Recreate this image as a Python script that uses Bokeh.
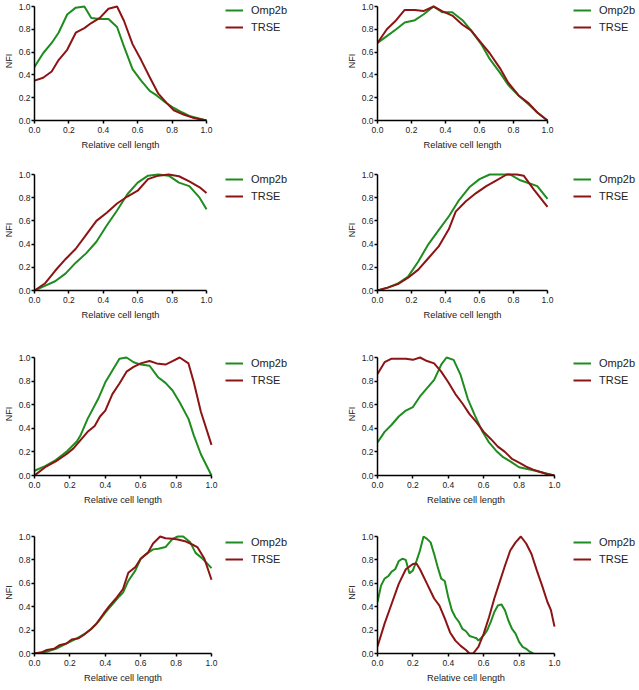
from bokeh.plotting import figure
from bokeh.models import Range1d, Legend, LegendItem, FixedTicker, CustomJSTickFormatter, Title
from bokeh.layouts import column, row
from bokeh.embed import file_html
from bokeh.resources import INLINE

# ---------------- data ----------------
p1_omp_x = [0.0, 0.05, 0.10, 0.14, 0.19, 0.24, 0.29, 0.33, 0.38, 0.43, 0.48, 0.52, 0.57, 0.62, 0.67, 0.71, 0.76, 0.81, 0.86, 0.90, 0.95, 1.0]
p1_omp_y = [0.47, 0.59, 0.68, 0.77, 0.93, 0.99, 1.0, 0.90, 0.89, 0.89, 0.82, 0.65, 0.45, 0.35, 0.26, 0.22, 0.16, 0.11, 0.07, 0.04, 0.02, 0.0]
p1_trs_x = [0.0, 0.05, 0.10, 0.14, 0.19, 0.24, 0.29, 0.33, 0.38, 0.43, 0.48, 0.52, 0.57, 0.62, 0.67, 0.72, 0.77, 0.81, 0.87, 0.92, 1.0]
p1_trs_y = [0.35, 0.375, 0.43, 0.53, 0.62, 0.77, 0.81, 0.855, 0.90, 0.98, 1.0, 0.875, 0.67, 0.53, 0.38, 0.235, 0.15, 0.09, 0.05, 0.025, 0.0]

p2_omp_x = [0.0, 0.055, 0.11, 0.16, 0.22, 0.27, 0.33, 0.38, 0.44, 0.50, 0.55, 0.61, 0.66, 0.72, 0.77, 0.83, 0.89, 0.94, 1.0]
p2_omp_y = [0.68, 0.74, 0.80, 0.86, 0.88, 0.93, 1.0, 0.95, 0.95, 0.88, 0.79, 0.67, 0.54, 0.42, 0.31, 0.22, 0.14, 0.07, 0.0]
p2_trs_x = [0.0, 0.055, 0.11, 0.16, 0.22, 0.27, 0.33, 0.38, 0.44, 0.50, 0.55, 0.61, 0.66, 0.72, 0.77, 0.83, 0.89, 0.94, 1.0]
p2_trs_y = [0.68, 0.80, 0.88, 0.97, 0.97, 0.96, 1.0, 0.96, 0.92, 0.84, 0.79, 0.68, 0.59, 0.46, 0.33, 0.22, 0.15, 0.07, 0.0]

p3_omp_x = [0.0, 0.06, 0.12, 0.18, 0.24, 0.30, 0.36, 0.42, 0.48, 0.54, 0.60, 0.66, 0.72, 0.78, 0.84, 0.90, 0.96, 1.0]
p3_omp_y = [0.0, 0.04, 0.08, 0.145, 0.24, 0.32, 0.42, 0.56, 0.69, 0.83, 0.93, 0.99, 1.0, 0.99, 0.93, 0.90, 0.80, 0.70]
p3_trs_x = [0.0, 0.06, 0.12, 0.18, 0.24, 0.30, 0.36, 0.42, 0.48, 0.54, 0.60, 0.66, 0.72, 0.78, 0.84, 0.90, 0.96, 1.0]
p3_trs_y = [0.0, 0.06, 0.17, 0.27, 0.36, 0.48, 0.60, 0.67, 0.75, 0.81, 0.86, 0.96, 0.99, 1.0, 0.985, 0.94, 0.89, 0.84]

p4_omp_x = [0.0, 0.06, 0.12, 0.18, 0.24, 0.30, 0.36, 0.42, 0.48, 0.54, 0.60, 0.66, 0.72, 0.78, 0.84, 0.90, 0.94, 1.0]
p4_omp_y = [0.0, 0.025, 0.06, 0.12, 0.25, 0.40, 0.52, 0.64, 0.78, 0.89, 0.96, 1.0, 1.0, 1.0, 0.95, 0.92, 0.90, 0.79]
p4_trs_x = [0.0, 0.06, 0.12, 0.18, 0.24, 0.30, 0.36, 0.42, 0.46, 0.52, 0.58, 0.64, 0.70, 0.76, 0.82, 0.86, 0.92, 1.0]
p4_trs_y = [0.0, 0.025, 0.055, 0.11, 0.18, 0.28, 0.38, 0.53, 0.68, 0.77, 0.84, 0.90, 0.95, 1.0, 1.0, 0.99, 0.87, 0.72]

p5_omp_x = [0.0, 0.06, 0.12, 0.18, 0.24, 0.26, 0.30, 0.36, 0.40, 0.44, 0.48, 0.52, 0.56, 0.60, 0.65, 0.70, 0.74, 0.78, 0.82, 0.87, 0.90, 0.94, 1.0]
p5_omp_y = [0.04, 0.08, 0.13, 0.20, 0.29, 0.34, 0.48, 0.65, 0.79, 0.89, 0.99, 1.0, 0.96, 0.94, 0.93, 0.83, 0.785, 0.72, 0.62, 0.48, 0.34, 0.18, 0.0]
p5_trs_x = [0.0, 0.06, 0.12, 0.18, 0.22, 0.26, 0.30, 0.34, 0.37, 0.40, 0.44, 0.48, 0.52, 0.56, 0.60, 0.65, 0.69, 0.74, 0.78, 0.82, 0.87, 0.90, 0.94, 1.0]
p5_trs_y = [0.0, 0.07, 0.12, 0.18, 0.23, 0.30, 0.37, 0.42, 0.50, 0.55, 0.69, 0.78, 0.88, 0.92, 0.95, 0.97, 0.95, 0.94, 0.97, 1.0, 0.95, 0.79, 0.54, 0.26]

p6_omp_x = [0.0, 0.04, 0.08, 0.12, 0.16, 0.20, 0.24, 0.28, 0.32, 0.36, 0.39, 0.43, 0.47, 0.51, 0.55, 0.59, 0.63, 0.67, 0.71, 0.75, 0.80, 0.86, 0.92, 0.96, 1.0]
p6_omp_y = [0.28, 0.37, 0.43, 0.50, 0.55, 0.58, 0.67, 0.74, 0.81, 0.94, 1.0, 0.98, 0.85, 0.65, 0.51, 0.38, 0.28, 0.21, 0.155, 0.12, 0.07, 0.05, 0.03, 0.015, 0.0]
p6_trs_x = [0.0, 0.04, 0.08, 0.12, 0.16, 0.20, 0.24, 0.28, 0.32, 0.36, 0.40, 0.44, 0.48, 0.52, 0.56, 0.60, 0.64, 0.68, 0.72, 0.76, 0.80, 0.84, 0.88, 0.92, 0.96, 1.0]
p6_trs_y = [0.86, 0.96, 0.99, 0.99, 0.99, 0.98, 1.0, 0.97, 0.95, 0.88, 0.79, 0.69, 0.61, 0.52, 0.45, 0.37, 0.31, 0.245, 0.20, 0.14, 0.11, 0.075, 0.05, 0.03, 0.01, 0.0]

p7_omp_x = [0.0, 0.04, 0.08, 0.12, 0.16, 0.20, 0.24, 0.28, 0.32, 0.36, 0.40, 0.44, 0.48, 0.50, 0.53, 0.57, 0.60, 0.63, 0.67, 0.70, 0.74, 0.78, 0.81, 0.84, 0.88, 0.91, 0.95, 1.0]
p7_omp_y = [0.0, 0.005, 0.02, 0.04, 0.07, 0.10, 0.13, 0.165, 0.21, 0.27, 0.35, 0.42, 0.49, 0.52, 0.62, 0.71, 0.81, 0.85, 0.89, 0.895, 0.91, 0.98, 1.0, 1.0, 0.95, 0.86, 0.81, 0.73]
p7_trs_x = [0.0, 0.04, 0.07, 0.11, 0.14, 0.18, 0.21, 0.25, 0.28, 0.32, 0.35, 0.39, 0.42, 0.46, 0.50, 0.53, 0.57, 0.60, 0.64, 0.67, 0.71, 0.74, 0.78, 0.81, 0.85, 0.88, 0.92, 0.96, 1.0]
p7_trs_y = [0.0, 0.01, 0.03, 0.04, 0.07, 0.085, 0.12, 0.13, 0.16, 0.21, 0.255, 0.34, 0.40, 0.47, 0.55, 0.69, 0.74, 0.81, 0.86, 0.94, 1.0, 0.985, 0.98, 0.975, 0.96, 0.94, 0.91, 0.81, 0.63]

p8_omp_x = [0.0, 0.02, 0.04, 0.06, 0.08, 0.10, 0.12, 0.14, 0.16, 0.18, 0.20, 0.22, 0.24, 0.26, 0.28, 0.30, 0.32, 0.34, 0.36, 0.38, 0.40, 0.42, 0.44, 0.46, 0.48, 0.50, 0.52, 0.54, 0.56, 0.57, 0.60, 0.62, 0.64, 0.66, 0.68, 0.70, 0.72, 0.74, 0.76, 0.78, 0.80, 0.82, 0.84, 0.86, 0.88]
p8_omp_y = [0.44, 0.58, 0.64, 0.66, 0.70, 0.72, 0.79, 0.81, 0.80, 0.685, 0.71, 0.79, 0.88, 1.0, 0.98, 0.95, 0.85, 0.74, 0.64, 0.62, 0.48, 0.37, 0.31, 0.27, 0.21, 0.19, 0.15, 0.14, 0.13, 0.11, 0.155, 0.20, 0.27, 0.355, 0.41, 0.42, 0.37, 0.28, 0.21, 0.17, 0.10, 0.057, 0.04, 0.015, 0.0]
p8_trs_x = [0.0, 0.04, 0.08, 0.12, 0.16, 0.20, 0.22, 0.24, 0.28, 0.32, 0.35, 0.38, 0.41, 0.44, 0.47, 0.50, 0.52, 0.54, 0.57, 0.60, 0.63, 0.66, 0.69, 0.72, 0.75, 0.78, 0.81, 0.84, 0.87, 0.90, 0.93, 0.96, 0.98, 1.0]
p8_trs_y = [0.06, 0.255, 0.425, 0.595, 0.72, 0.765, 0.77, 0.72, 0.595, 0.47, 0.41, 0.30, 0.18, 0.11, 0.065, 0.03, 0.0, 0.0, 0.057, 0.17, 0.31, 0.47, 0.61, 0.75, 0.88, 0.95, 1.0, 0.94, 0.85, 0.71, 0.58, 0.44, 0.37, 0.23]

series_names = ["Omp2b", "TRSE"]
tick_values = [0.0, 0.2, 0.4, 0.6, 0.8, 1.0]
x_label = "Relative cell length"
y_label = "NFI"

GREEN = "#1e8c1e"
RED = "#8c1414"
FONT = "Liberation Sans"

panels = [
    (p1_omp_x, p1_omp_y, p1_trs_x, p1_trs_y),
    (p2_omp_x, p2_omp_y, p2_trs_x, p2_trs_y),
    (p3_omp_x, p3_omp_y, p3_trs_x, p3_trs_y),
    (p4_omp_x, p4_omp_y, p4_trs_x, p4_trs_y),
    (p5_omp_x, p5_omp_y, p5_trs_x, p5_trs_y),
    (p6_omp_x, p6_omp_y, p6_trs_x, p6_trs_y),
    (p7_omp_x, p7_omp_y, p7_trs_x, p7_trs_y),
    (p8_omp_x, p8_omp_y, p8_trs_x, p8_trs_y),
]

# layout (pixels)
BOTTOM = 36
PAD_TOP = 5                       # extra frame room above y = 1.0
XLAB_W = 78                       # approx. rendered width of the x-axis label
row_tops = [6, 18, 31, 25]
row_frame_h = [114, 116, 118, 117]
row_frame_w = [(172, 170), (172, 170), (177, 177), (177, 177)]
col_width = [320, 319]
col_left = [34, 57]
col_legend_x = [225, 573]          # absolute x of the legend line start
col_start = [0, 320]
legend_dy = [4, 5, 6, 6]


def make_fig(idx):
    r, c = divmod(idx, 2)
    width, left = col_width[c], col_left[c]
    fw = row_frame_w[r][c]
    fh = row_frame_h[r]
    top = row_tops[r]
    height = top + fh + BOTTOM
    full_w = width - left                 # frame spans plot + legend area
    p = figure(width=width, height=height, output_backend="svg", toolbar_location=None,
               x_range=Range1d(0, full_w / fw), y_range=Range1d(0, (fh + PAD_TOP) / fh),
               min_border_left=left, min_border_right=0,
               min_border_top=top - PAD_TOP, min_border_bottom=BOTTOM)
    p.outline_line_color = None
    p.grid.visible = False
    ox, oy, tx, ty = panels[idx]
    g = p.line(ox, oy, line_color=GREEN, line_width=2)
    t = p.line(tx, ty, line_color=RED, line_width=2)
    fmt = CustomJSTickFormatter(code="return tick.toFixed(1);")
    for ax in (p.xaxis[0], p.yaxis[0]):
        ax.ticker = FixedTicker(ticks=tick_values)
        ax.formatter = fmt
        ax.bounds = (0, 1)
        ax.axis_line_width = 1.5
        ax.axis_line_color = "black"
        ax.major_tick_line_width = 1.5
        ax.major_tick_in = 0
        ax.major_tick_out = 3
        ax.minor_tick_line_color = None
        ax.major_label_text_font = FONT
        ax.major_label_text_font_size = "8.5px"
        ax.major_label_text_color = "#222222"
        ax.axis_label_text_font = FONT
        ax.axis_label_text_font_size = "9px"
        ax.axis_label_text_font_style = "normal"
        ax.axis_label_text_color = "#222222"
    p.xaxis[0].major_label_standoff = 3
    p.yaxis[0].axis_label = y_label
    p.yaxis[0].major_label_standoff = 1
    p.yaxis[0].axis_label_standoff = 2

    # x-axis label, centred under the 0..1 part of the axis
    p.add_layout(Title(text=x_label, align="left", offset=fw / 2 - XLAB_W / 2, standoff=5,
                       text_font=FONT, text_font_size="9.3px", text_font_style="normal",
                       text_color="#222222"), "below")

    leg_h = 12 + 5 + 12
    lx = col_legend_x[c] - (col_start[c] + left)
    legend = Legend(items=[LegendItem(label=series_names[0], renderers=[g]),
                           LegendItem(label=series_names[1], renderers=[t])],
                    location=(lx, fh - leg_h - (legend_dy[r] - 6)),
                    glyph_width=18, glyph_height=12, label_height=12,
                    label_standoff=8, spacing=5, padding=0, margin=0,
                    border_line_color=None, background_fill_alpha=0,
                    label_text_font=FONT, label_text_font_size="11px",
                    label_text_color="#222222")
    p.add_layout(legend)
    return p


figs = [make_fig(i) for i in range(8)]
layout = column(*[row(figs[2 * r], figs[2 * r + 1]) for r in range(4)])

open("out.html", "w").write(file_html(layout, INLINE))
